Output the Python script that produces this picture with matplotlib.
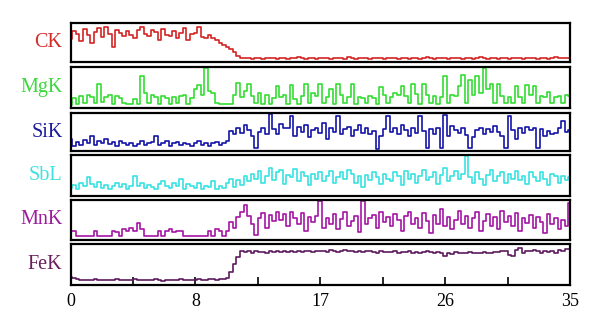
import numpy as np
import matplotlib
matplotlib.use("Agg")
import matplotlib.pyplot as plt

# position along the scan (0..35), sampled every 0.25
step = 0.25
n_points = 141

labels = ["CK", "MgK", "SiK", "SbL", "MnK", "FeK"]
tick_labels = ["0", "8", "17", "26", "35"]

CK = [60, 82, 74, 55, 88, 70, 48, 79, 90, 66,
      93, 72, 38, 84, 77, 68, 81, 71, 62, 85,
      91, 74, 69, 83, 78, 58, 87, 71, 67, 80,
      61, 76, 89, 57, 72, 75, 92, 66, 63, 70,
      62, 58, 50, 44, 38, 32, 24, 14, 8, 7,
      7, 6, 8, 7, 6, 7, 9, 7, 6, 7,
      8, 6, 7, 7, 10, 7, 6, 8, 7, 6,
      7, 9, 7, 6, 7, 8, 7, 6, 10, 7,
      6, 7, 8, 7, 6, 7, 9, 7, 6, 7,
      7, 8, 6, 7, 7, 6, 8, 7, 6, 7,
      10, 7, 6, 7, 8, 7, 6, 7, 9, 7,
      6, 8, 7, 6, 7, 11, 7, 6, 8, 7,
      6, 7, 8, 6, 7, 9, 7, 6, 7, 8,
      7, 6, 9, 7, 6, 8, 10, 7, 9, 8,
      7]

MgK = [5, 22, 8, 28, 10, 30, 25, 9, 58, 12,
       26, 30, 8, 28, 24, 9, 7, 7, 20, 7,
       80, 35, 9, 30, 26, 8, 27, 22, 8, 25,
       9, 28, 30, 8, 22, 45, 57, 30, 100, 42,
       35, 9, 7, 7, 7, 7, 30, 62, 25, 40,
       58, 28, 9, 35, 8, 30, 7, 22, 55, 25,
       30, 8, 56, 20, 8, 28, 60, 9, 35, 28,
       60, 9, 25, 45, 8, 58, 30, 9, 25, 60,
       8, 26, 24, 9, 28, 22, 7, 52, 30, 9,
       25, 35, 30, 55, 28, 9, 60, 32, 8, 58,
       30, 9, 28, 8, 26, 80, 9, 30, 28, 55,
       82, 9, 70, 30, 80, 35, 100, 45, 60, 9,
       58, 28, 9, 25, 9, 55, 25, 9, 57, 30,
       55, 9, 28, 25, 38, 9, 25, 28, 9, 30,
       28]

SiK = [30, 12, 22, 15, 28, 18, 38, 14, 24, 20,
       30, 16, 22, 12, 26, 18, 14, 20, 10, 16,
       24, 14, 18, 22, 40, 15, 20, 24, 12, 18,
       22, 14, 20, 16, 12, 18, 24, 14, 20, 10,
       18, 22, 15, 20, 24, 52, 45, 60, 48, 70,
       55, 40, 5, 50, 62, 45, 100, 58, 45, 72,
       60, 62, 96, 40, 65, 50, 70, 35, 55, 62,
       48, 75, 30, 62, 50, 95, 45, 58, 65, 40,
       55, 70, 48, 60, 45, 52, 3, 40, 58, 95,
       50, 62, 44, 70, 55, 38, 60, 48, 95, 52,
       5, 58, 45, 62, 5, 98, 40, 66, 55, 48,
       60, 42, 5, 35, 56, 62, 45, 58, 50, 68,
       50, 40, 5, 95, 55, 30, 60, 48, 65, 55,
       62, 5, 58, 40, 52, 45, 48, 60, 80, 50,
       55]

SbL = [18, 25, 15, 30, 22, 45, 28, 20, 32, 18,
       26, 15, 22, 30, 20, 28, 16, 24, 48, 22,
       30, 18, 26, 20, 15, 28, 35, 22, 18, 30,
       24, 40, 16, 28, 22, 18, 30, 15, 24, 20,
       35, 15, 22, 18, 30, 42, 20, 38, 25, 50,
       35, 55, 40, 62, 30, 48, 70, 38, 58, 65,
       28, 52, 45, 68, 35, 60, 50, 25, 55, 42,
       60, 35, 50, 62, 30, 45, 58, 40, 65, 55,
       30, 48, 20, 52, 38, 60, 45, 28, 55, 42,
       35, 58, 48, 25, 62, 40, 55, 30, 50, 65,
       38, 45, 60, 28, 52, 70, 35, 48, 62, 40,
       55, 100, 45, 30, 58, 40, 25, 52, 65, 35,
       48, 60, 30, 55, 42, 62, 38, 50, 28, 58,
       45, 35, 60, 40, 25, 55, 48, 30, 50, 38,
       45]

MnK = [20, 22, 8, 8, 8, 8, 8, 22, 8, 8,
       8, 8, 22, 18, 8, 25, 20, 28, 22, 42,
       25, 8, 8, 8, 8, 20, 8, 22, 25, 18,
       22, 20, 8, 8, 8, 8, 8, 8, 8, 20,
       8, 25, 20, 8, 22, 45, 30, 58, 70, 89,
       60, 40, 10, 55, 68, 30, 62, 48, 70, 50,
       65, 35, 72, 55, 40, 68, 20, 58, 45, 60,
       100, 30, 55, 40, 65, 25, 52, 70, 35, 48,
       60, 18, 100, 40, 55, 62, 30, 70, 45, 58,
       35, 65, 50, 20, 60, 72, 40, 55, 30, 68,
       48, 15, 62, 40, 80, 35, 58, 25, 50, 75,
       40, 60, 30, 55, 70, 20, 48, 65, 35, 58,
       25, 75, 45, 60, 35, 68, 20, 55, 42, 62,
       30, 58, 45, 15, 65, 40, 55, 25, 50, 35,
       95]

FeK = [18, 15, 12, 10, 11, 9, 10, 12, 10, 9,
       11, 10, 9, 12, 10, 11, 9, 10, 12, 10,
       9, 11, 10, 9, 12, 10, 8, 11, 10, 9,
       10, 12, 9, 11, 10, 9, 12, 10, 11, 13,
       12, 11, 13, 12, 15, 30, 52, 70, 86, 82,
       86, 80, 84, 82, 83, 80, 84, 82, 85, 83,
       84, 82, 86, 83, 85, 82, 84, 86, 83, 85,
       84, 86, 83, 87, 84, 82, 85, 88, 84, 86,
       83, 85, 82, 84, 86, 83, 81, 84, 82, 83,
       82, 84, 81, 83, 82, 84, 80, 83, 81, 82,
       84, 82, 80, 83, 81, 72, 80, 78, 82, 80,
       81, 79, 82, 80, 81, 79, 82, 81, 80, 83,
       82, 84, 86, 75, 72, 88, 92, 80, 86, 84,
       88, 84, 80, 86, 82, 85, 80, 88, 84, 90,
       90]

series = [CK, MgK, SiK, SbL, MnK, FeK]
line_colors = ["#d42424", "#33dd33", "#1414a8", "#38e2e2", "#a414a4", "#5e1a5e"]
text_colors = ["#d42a2a", "#3cd83c", "#1c1c9c", "#40e0e0", "#9c1c9c", "#6a1f5c"]

x = np.arange(n_points) * step

plt.rcParams['font.family'] = ['Liberation Serif', 'DejaVu Serif']
fig = plt.figure(figsize=(6.0, 3.34), dpi=100)
W, H = 600.0, 334.0
left, right = 70.5, 570.0
panels_px = [(23, 62), (67, 108), (113, 151), (155, 196), (200, 240), (244, 285)]

for k, (lab, vals, lc, tc, (top, bot)) in enumerate(zip(labels, series, line_colors, text_colors, panels_px)):
    ax = fig.add_axes([left / W, 1 - bot / H, (right - left) / W, (bot - top) / H])
    ax.plot(x, vals, color=lc, lw=1.2, drawstyle="steps-mid")
    ax.set_xlim(0, 35)
    ax.set_ylim(-3, 103)
    ax.set_yticks([])
    for s in ax.spines.values():
        s.set_linewidth(1.6)
        s.set_color("black")
    ax.text(-0.016, 0.5, lab, transform=ax.transAxes, ha="right", va="center",
            fontsize=14.5, color=tc)
    if k == len(labels) - 1:
        major = np.linspace(0, 35, 5)
        minor = np.linspace(0, 35, 9)
        ax.set_xticks(major)
        ax.set_xticklabels(tick_labels, fontsize=13)
        ax.set_xticks(minor, minor=True)
        ax.tick_params(axis="x", which="both", direction="in", length=6, width=1.2, pad=6)
    else:
        ax.set_xticks([])

fig.savefig("out.png", dpi=100, facecolor="white")
